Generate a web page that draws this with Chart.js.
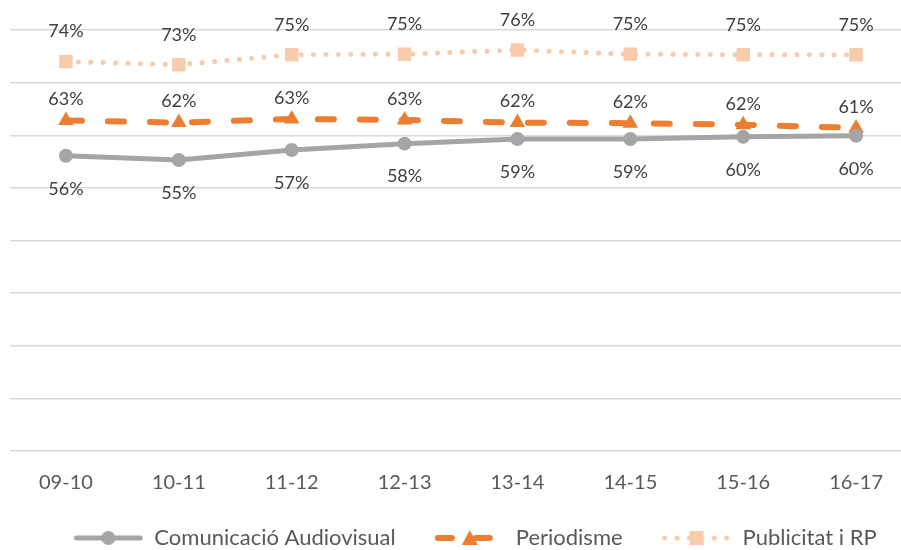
<!DOCTYPE html>
<html>
<head>
<meta charset="utf-8">
<script src="https://cdn.jsdelivr.net/npm/chart.js@4"></script>
<style>
  html, body { margin: 0; padding: 0; background: #fff; overflow: hidden; }
  #wrap { width: 922px; height: 559px; }
</style>
</head>
<body>
<div id="wrap"><canvas id="grafico"></canvas></div>
<script>
var cursos = ['09-10', '10-11', '11-12', '12-13', '13-14', '14-15', '15-16', '16-17']
var comunicacio = [0.561, 0.553, 0.572, 0.584, 0.593, 0.593, 0.597, 0.599]
var periodisme = [0.628, 0.624, 0.631, 0.629, 0.624, 0.623, 0.620, 0.614]
var publicitat = [0.740, 0.734, 0.753, 0.754, 0.762, 0.754, 0.753, 0.753]
var nomsSeries = ['Comunicació Audiovisual', 'Periodisme', 'Publicitat i RP']

var gris = '#A5A5A5'
var taronja = '#ED7D31'
var taronjaClar = '#F8CBAD'

var buit = 19 // espai a l'esquerra de cada icona de la llegenda

// icona de llegenda: linia + marcador
function iconaLlegenda(color, dash, ample, marcador) {
    var c = document.createElement('canvas')
    c.width = 70 + buit
    c.height = 20
    var ctx = c.getContext('2d')
    ctx.translate(buit, 0)
    ctx.strokeStyle = color
    ctx.fillStyle = color
    ctx.lineWidth = ample
    ctx.lineCap = 'round'
    ctx.setLineDash(dash)
    ctx.beginPath()
    ctx.moveTo(3, 10)
    ctx.lineTo(67, 10)
    ctx.stroke()
    ctx.setLineDash([])
    ctx.beginPath()
    if (marcador == 'circle') {
        ctx.arc(35, 10, 7, 0, Math.PI * 2)
    } else if (marcador == 'triangle') {
        ctx.moveTo(35, 2)
        ctx.lineTo(43, 17)
        ctx.lineTo(27, 17)
        ctx.closePath()
    } else {
        ctx.rect(28, 3, 14, 14)
    }
    ctx.fill()
    return c
}

var icones = [
    iconaLlegenda(gris, [], 5, 'circle'),
    iconaLlegenda(taronja, [14, 24], 6, 'triangle'),
    iconaLlegenda(taronjaClar, [0.1, 12.3], 5, 'rect')
]

var etiquetes = {
    id: 'etiquetes',
    afterDatasetsDraw: function (chart) {
        var ctx = chart.ctx
        var despl = [33, -21, -30]
        ctx.save()
        ctx.font = '18px Lato'
        ctx.fillStyle = '#404040'
        ctx.textAlign = 'center'
        ctx.textBaseline = 'middle'
        chart.data.datasets.forEach(function (ds, i) {
            var meta = chart.getDatasetMeta(i)
            meta.data.forEach(function (p, j) {
                ctx.fillText(Math.round(ds.data[j] * 100) + '%', p.x, p.y + despl[i])
            })
        })
        ctx.restore()
    }
}

new Chart(document.getElementById('grafico'), {
    type: 'line',
    data: {
        labels: cursos,
        datasets: [{
            label: nomsSeries[0],
            data: comunicacio,
            borderColor: gris,
            backgroundColor: gris,
            borderWidth: 5,
            pointStyle: 'circle',
            pointRadius: 7,
            pointBorderWidth: 0
        }, {
            label: nomsSeries[1],
            data: periodisme,
            borderColor: taronja,
            backgroundColor: taronja,
            borderWidth: 6,
            borderDash: [16, 26],
            borderCapStyle: 'round',
            pointStyle: 'triangle',
            pointRadius: 9,
            pointBorderWidth: 0
        }, {
            label: nomsSeries[2],
            data: publicitat,
            borderColor: taronjaClar,
            backgroundColor: taronjaClar,
            borderWidth: 5,
            borderDash: [0.1, 12.3],
            borderCapStyle: 'round',
            pointStyle: 'rect',
            pointRadius: 9.5,
            pointBorderWidth: 0
        }]
    },
    options: {
        responsive: true,
        maintainAspectRatio: false,
        animation: false,
        layout: { padding: { top: 30, left: 9, right: 0, bottom: 0 } },
        plugins: {
            legend: {
                position: 'bottom',
                labels: {
                    usePointStyle: true,
                    pointStyleWidth: 70 + buit,
                    boxHeight: 20,
                    padding: 20,
                    color: '#595959',
                    font: { family: 'Lato', size: 22 },
                    generateLabels: function (chart) {
                        return chart.data.datasets.map(function (ds, i) {
                            return {
                                text: ds.label,
                                pointStyle: icones[i],
                                fillStyle: ds.borderColor,
                                strokeStyle: ds.borderColor,
                                lineWidth: 0,
                                fontColor: '#595959',
                                datasetIndex: i
                            }
                        })
                    }
                }
            },
            tooltip: { enabled: false }
        },
        scales: {
            x: {
                offset: true,
                grid: { display: false, offset: true },
                border: { display: false },
                ticks: { color: '#595959', font: { family: 'Lato', size: 20 }, padding: 12 }
            },
            y: {
                min: 0,
                max: 0.8,
                ticks: { display: false, stepSize: 0.1 },
                border: { display: false },
                grid: { color: '#D9D9D9', lineWidth: 1.5, drawTicks: false }
            }
        }
    },
    plugins: [etiquetes]
})
</script>
</body>
</html>
